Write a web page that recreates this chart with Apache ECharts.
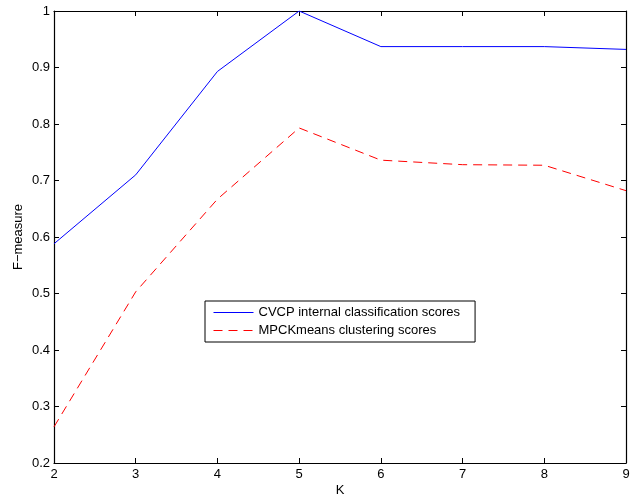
<!DOCTYPE html>
<html>
<head>
<meta charset="utf-8">
<script src="https://cdn.jsdelivr.net/npm/echarts@6/dist/echarts.min.js"></script>
<style>
  html, body { margin: 0; padding: 0; background: #fff; }
  #main { width: 641px; height: 495px; }
</style>
</head>
<body>
<div id="main"></div>
<script>
// K values on the x axis
var kValues = [2, 3, 4, 5, 6, 7, 8, 9];
// F-measure per K
var cvcpScores = [0.588, 0.710, 0.893, 1.0, 0.937, 0.937, 0.937, 0.932];
var mpckScores = [0.264, 0.503, 0.667, 0.793, 0.736, 0.728, 0.727, 0.682];
var seriesNames = ['CVCP internal classification scores', 'MPCKmeans clustering scores'];

var FONT = '"Liberation Sans", Arial, Helvetica, sans-serif';

function pairs(vals) {
    return kValues.map(function (k, i) { return [k, vals[i]]; });
}

var chart = echarts.init(document.getElementById('main'), null, { renderer: 'canvas' });

var axisLine = { show: true, onZero: false, lineStyle: { color: '#000', width: 1.2 } };
var tickIn = { show: true, inside: true, length: 5, lineStyle: { color: '#000', width: 1 } };

chart.setOption({
    animation: false,
    backgroundColor: '#fff',
    textStyle: { fontFamily: FONT },
    grid: { left: 54, right: 15, top: 11, bottom: 32, containLabel: false, outerBoundsMode: 'none' },
    legend: {
        orient: 'vertical',
        left: 205,
        top: 301,
        padding: [5, 15, 5, 8],
        itemGap: 5,
        itemWidth: 40,
        itemHeight: 14,
        borderColor: '#000',
        borderWidth: 1,
        backgroundColor: '#fff',
        itemStyle: { opacity: 0 },
        lineStyle: { width: 1 },
        textStyle: { fontFamily: FONT, fontSize: 13, color: '#000' },
        data: seriesNames
    },
    xAxis: [{
        type: 'value',
        min: 2, max: 9, interval: 1,
        name: 'K',
        nameLocation: 'middle',
        nameGap: 21,
        nameMoveOverlap: false,
        nameTextStyle: { fontFamily: FONT, fontSize: 13, color: '#000' },
        axisLine: axisLine,
        axisTick: tickIn,
        axisLabel: { color: '#000', fontFamily: FONT, fontSize: 13, margin: 5 },
        splitLine: { show: false }
    }, {
        type: 'value',
        position: 'top',
        min: 2, max: 9, interval: 1,
        axisLine: axisLine,
        axisTick: tickIn,
        axisLabel: { show: false },
        splitLine: { show: false }
    }],
    yAxis: [{
        type: 'value',
        min: 0.2, max: 1, interval: 0.1,
        name: 'F\u2212measure',
        nameLocation: 'middle',
        nameGap: 29,
        nameMoveOverlap: false,
        nameTextStyle: { fontFamily: FONT, fontSize: 13, color: '#000' },
        axisLine: axisLine,
        axisTick: tickIn,
        axisLabel: {
            color: '#000', fontFamily: FONT, fontSize: 13, margin: 4,
            formatter: function (v) { return String(Math.round(v * 10) / 10); }
        },
        splitLine: { show: false }
    }, {
        type: 'value',
        position: 'right',
        min: 0.2, max: 1, interval: 0.1,
        axisLine: axisLine,
        axisTick: tickIn,
        axisLabel: { show: false },
        splitLine: { show: false }
    }],
    series: [{
        name: seriesNames[0],
        type: 'line',
        data: pairs(cvcpScores),
        symbol: 'none',
        color: '#0000ff',
        lineStyle: { color: '#0000ff', width: 1 }
    }, {
        name: seriesNames[1],
        type: 'line',
        data: pairs(mpckScores),
        symbol: 'none',
        color: '#ff0000',
        lineStyle: { color: '#ff0000', width: 1, type: [9, 6] }
    }]
});
</script>
</body>
</html>
